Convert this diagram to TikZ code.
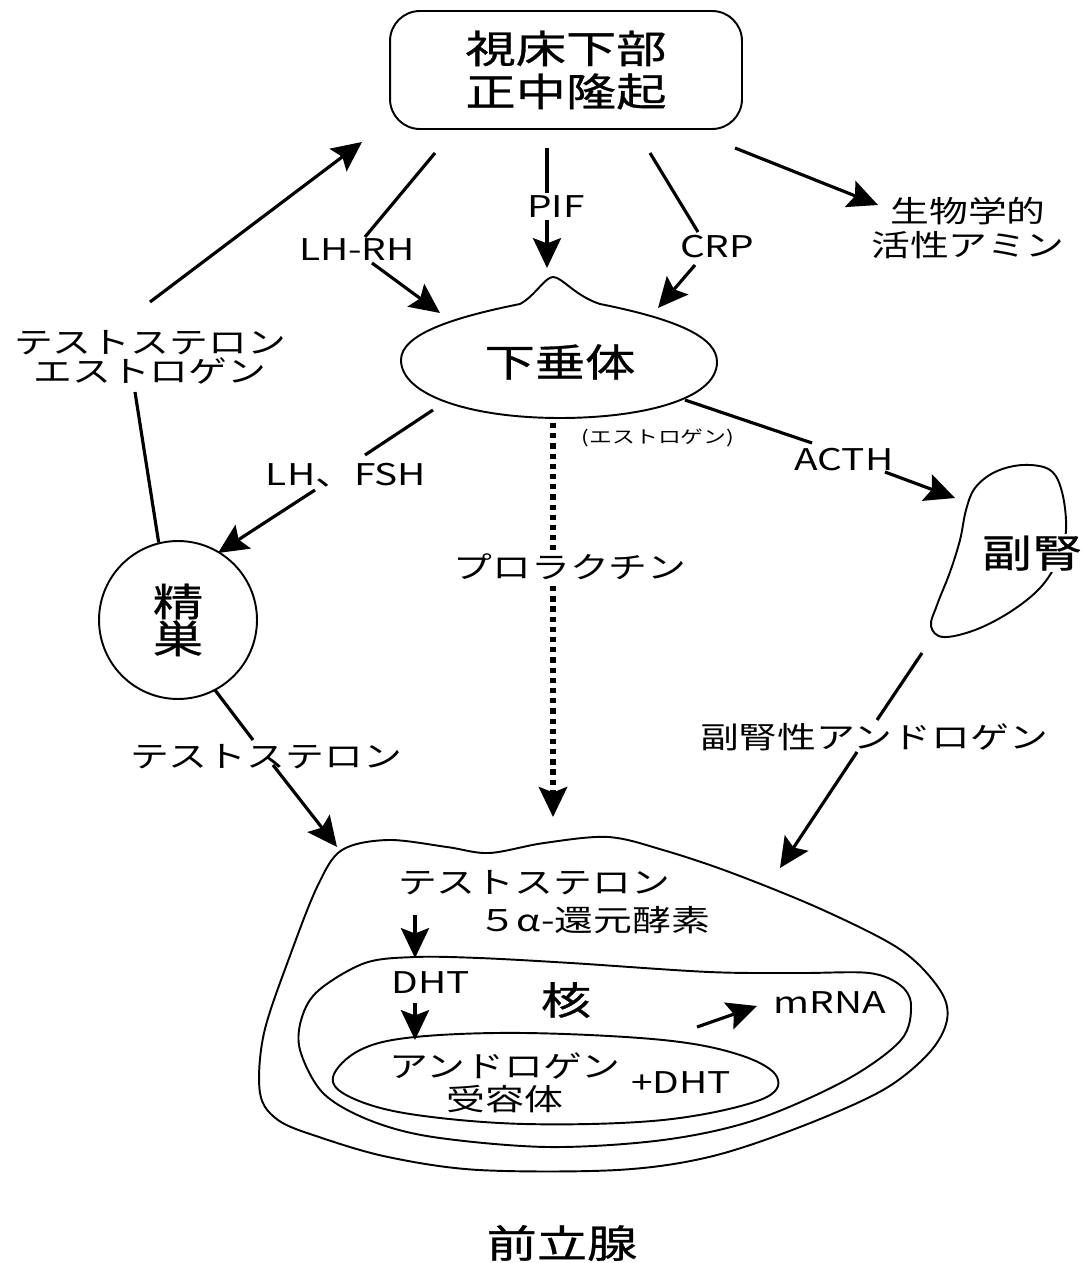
\documentclass[tikz,border=0pt]{standalone}
\usepackage{fontspec}
\setmainfont{Noto Sans CJK JP}[FakeStretch=1.3]
\newfontfamily\heavyfont{Noto Sans CJK JP}[FakeStretch=1.3, FakeBold=0.8]
\usetikzlibrary{arrows.meta}
\begin{document}
\begin{tikzpicture}[x=0.02cm,y=-0.02cm,
  big/.style={font=\heavyfont\fontsize{22}{24.5}\selectfont, align=center, inner sep=1pt},
  lab/.style={font=\fontsize{17}{19}\selectfont, align=center, inner sep=1pt},
  tiny/.style={font=\fontsize{10}{11}\selectfont, inner sep=1pt},
  conn/.style={line width=1.8pt},
  tipstyle/.style={-{Stealth[length=17pt,width=16pt,inset=3pt]}},
  arr/.style={conn, tipstyle},
  outline/.style={line width=1.1pt},
  dotline/.style={line width=3pt, dash pattern=on 3pt off 2.8pt}]
\useasboundingbox (0,0) rectangle (1082,1263);
\fill[white] (0,0) rectangle (1082,1263);

% hypothalamus box
\node[draw, outline, rounded corners=17pt, minimum width=7.04cm, minimum height=2.36cm, big] (hyp) at (566,70) {視床下部\\正中隆起};

% pituitary
\draw[outline] (401,360) .. controls (401,335) and (450,318) .. (520,304)
  .. controls (535,296) and (545,277) .. (553,277)
  .. controls (562,277) and (575,296) .. (600,304)
  .. controls (680,320) and (717,338) .. (717,362)
  .. controls (717,400) and (640,418) .. (560,418)
  .. controls (470,418) and (401,395) .. (401,360) -- cycle;
\node[big] (pit) at (560,362) {下垂体};

% testis
\node[draw, outline, circle, minimum size=3.16cm, big, font=\heavyfont\fontsize{22}{21}\selectfont] (testis) at (178,620) {精\\巣};

% adrenal
\draw[outline] plot[smooth cycle, tension=0.6] coordinates {(975,488) (995,472) (1023,465) (1050,470) (1062,492) (1066,530) (1058,560) (1040,588) (1010,612) (975,630) (943,637) (931,626) (937,605) (950,572) (960,540) (966,510)};
\node[big, fill=white] (adr) at (1032,553) {副腎};

% prostate outer
\draw[outline] plot[smooth cycle, tension=0.55] coordinates {(342,850) (388,840) (447,847) (489,853) (544,843) (608,837) (663,850) (732,873) (823,910) (901,950) (940,990) (947,1020) (929,1053) (883,1090) (800,1127) (709,1157) (617,1170) (479,1170) (388,1157) (319,1137) (278,1120) (260,1093) (264,1033) (291,953) (318,885)};
% nucleus
\draw[outline] plot[smooth cycle, tension=0.55] coordinates {(415,957) (479,958) (571,963) (709,972) (800,973) (869,973) (900,985) (911,1005) (901,1040) (846,1080) (755,1120) (663,1140) (548,1147) (433,1137) (369,1120) (323,1093) (300,1050) (302,1017) (319,990) (365,963)};
% receptor
\draw[outline] plot[smooth cycle, tension=0.6] coordinates {(333,1077) (360,1050) (415,1037) (525,1033) (663,1040) (740,1055) (777,1077) (760,1100) (663,1120) (525,1124) (410,1114) (350,1097)};

% labels
\node[lab, font=\fontsize{17}{16.5}\selectfont] (te1) at (150,357) {テストステロン\\エストロゲン};
\node[lab] (lhrh) at (357,250) {LH-RH};
\node[lab] (pif) at (556,207) {PIF};
\node[lab] (crp) at (717,247) {CRP};
\node[lab, font=\fontsize{17}{19}\selectfont] (sbm) at (968,228) {生物学的\\活性アミン};
\node[lab] (lhfsh) at (346,475) {LH、FSH};
\node[lab] (acth) at (844,460) {ACTH};
\node[tiny] (est) at (658,438) {(エストロゲン)};
\node[lab] (adand) at (874,737) {副腎性アンドロゲン};
\node[lab] (te2) at (266,757) {テストステロン};

\node[lab] (tst) at (534,883) {テストステロン};
\node[lab] (enz) at (594,920) {５α-還元酵素};
\node[lab] (dht) at (431,983) {DHT};
\node[big] (nuc) at (566,1000) {核};
\node[lab] (mrna) at (830,1003) {mRNA};
\node[lab] (rec) at (505,1083) {アンドロゲン\\受容体};
\node[lab] (pdht) at (681,1083) {+DHT};
\node[big] (title) at (562,1243) {前立腺};

% coordinates
\coordinate (h1) at (362,142);
\coordinate (t1a) at (150,302);
\coordinate (t1b) at (135,392);
\coordinate (l1a) at (435,153);
\coordinate (l1b) at (365,237);
\coordinate (l1c) at (372,263);
\coordinate (l1d) at (440,313);
\coordinate (p1a) at (547,148);
\coordinate (p1b) at (547,193);
\coordinate (p1c) at (547,220);
\coordinate (p1d) at (547,268);
\coordinate (c1a) at (650,153);
\coordinate (c1b) at (698,232);
\coordinate (c1c) at (695,265);
\coordinate (c1d) at (658,308);
\coordinate (s1a) at (735,148);
\coordinate (s1b) at (878,205);
\coordinate (f1a) at (433,410);
\coordinate (f1b) at (365,455);
\coordinate (f1c) at (315,490);
\coordinate (f1d) at (218,553);
\coordinate (a1a) at (685,400);
\coordinate (a1b) at (812,443);
\coordinate (a1c) at (885,472);
\coordinate (a1d) at (955,498);
\coordinate (d1a) at (553,423);
\coordinate (d1b) at (553,817);
\coordinate (g1a) at (922,653);
\coordinate (g1b) at (877,720);
\coordinate (g1c) at (857,752);
\coordinate (g1d) at (780,868);
\coordinate (e1a) at (215,690);
\coordinate (e1b) at (253,740);
\coordinate (e1c) at (273,765);
\coordinate (e1d) at (337,847);
\coordinate (i1a) at (415,915);
\coordinate (i1b) at (415,958);
\coordinate (i2a) at (415,1003);
\coordinate (i2b) at (415,1040);
\coordinate (m1a) at (697,1027);
\coordinate (m1b) at (757,1006);

% connectors
\draw[conn] (testis.104) -- (t1b);
\draw[arr] (t1a) -- (h1);
\draw[conn] (l1a) -- (l1b);
\draw[arr] (l1c) -- (l1d);
\draw[conn] (p1a) -- (p1b);
\draw[arr] (p1c) -- (p1d);
\draw[conn] (c1a) -- (c1b);
\draw[arr] (c1c) -- (c1d);
\draw[arr] (s1a) -- (s1b);
\draw[conn] (f1a) -- (f1b);
\draw[arr] (f1c) -- (f1d);
\draw[conn] (a1a) -- (a1b);
\draw[arr] (a1c) -- (a1d);
\draw[dotline, tipstyle] (d1a) -- (d1b);
\node[lab, fill=white, inner sep=2pt] (prl) at (570,567) {プロラクチン};
\draw[conn] (g1a) -- (g1b);
\draw[arr] (g1c) -- (g1d);
\draw[conn] (e1a) -- (e1b);
\draw[arr] (e1c) -- (e1d);
\draw[arr] (i1a) -- (i1b);
\draw[arr] (i2a) -- (i2b);
\draw[arr] (m1a) -- (m1b);
\end{tikzpicture}
\end{document}
